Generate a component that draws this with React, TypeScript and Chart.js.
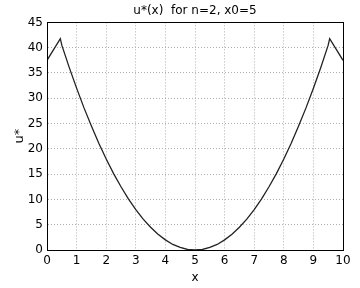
import React, { useEffect, useRef } from "react";
import { Chart, registerables } from "chart.js";

Chart.register(...registerables);

const xValues = [0, 0.45, 0.5, 0.75, 1, 1.25, 1.5, 1.75, 2, 2.25, 2.5, 2.75, 3, 3.25, 3.5, 3.75, 4, 4.25, 4.5, 4.75, 5, 5.25, 5.5, 5.75, 6, 6.25, 6.5, 6.75, 7, 7.25, 7.5, 7.75, 8, 8.25, 8.5, 8.75, 9, 9.25, 9.5, 9.55, 10];
const uValues = [37.5, 41.8, 40.5, 36.1, 32, 28.1, 24.5, 21.1, 18, 15.1, 12.5, 10.1, 8, 6.1, 4.5, 3.1, 2, 1.1, 0.5, 0.1, 0, 0.1, 0.5, 1.1, 2, 3.1, 4.5, 6.1, 8, 10.1, 12.5, 15.1, 18, 21.1, 24.5, 28.1, 32, 36.1, 40.5, 41.8, 37.5];
const titleText = "u*(x)  for n=2, x0=5";
const xLabel = "x";
const yLabel = "u*";

const FONT = "'DejaVu Sans', sans-serif";

const boxPlugin = {
  id: "boxPlugin",
  afterDraw(chart: any) {
    const { ctx, chartArea } = chart;
    ctx.save();
    ctx.strokeStyle = "#000";
    ctx.lineWidth = 1;
    ctx.setLineDash([]);
    ctx.strokeRect(
      Math.round(chartArea.left) + 0.5,
      Math.round(chartArea.top) + 0.5,
      Math.round(chartArea.right - chartArea.left),
      Math.round(chartArea.bottom - chartArea.top)
    );
    ctx.restore();
  },
};

export default function App() {
  const ref = useRef<HTMLCanvasElement | null>(null);
  useEffect(() => {
    if (!ref.current) return;
    const data = xValues.map((x, i) => ({ x, y: uValues[i] }));
    const chart = new Chart(ref.current, {
      type: "scatter",
      data: {
        datasets: [
          {
            data,
            showLine: true,
            borderColor: "#222",
            borderWidth: 1.3,
            pointRadius: 0,
            tension: 0,
          } as any,
        ],
      },
      options: {
        animation: false,
        responsive: false,
        layout: { padding: { left: 12, right: 17, top: 0, bottom: 0 } },
        plugins: {
          legend: { display: false },
          tooltip: { enabled: false },
          title: {
            display: true,
            text: titleText,
            fullSize: false,
            color: "#000",
            font: { family: FONT, size: 12, weight: "normal" },
            padding: { top: 4, bottom: 4 },
          },
        },
        scales: {
          x: {
            type: "linear",
            min: 0,
            max: 10,
            ticks: {
              stepSize: 1,
              color: "#000",
              font: { family: FONT, size: 12 },
              padding: 4,
            },
            grid: {
              color: "#b0b0b0",
              drawTicks: false,
            },
            border: { display: true, color: "#000", dash: [1, 2] } as any,
            title: {
              display: true,
              text: xLabel,
              color: "#000",
              font: { family: FONT, size: 12 },
              padding: { top: 0, bottom: 3 },
            },
            afterFit(scale: any) {
              scale.height = 38;
            },
          },
          y: {
            type: "linear",
            min: 0,
            max: 45,
            ticks: {
              stepSize: 5,
              color: "#000",
              font: { family: FONT, size: 12 },
              padding: 4,
            },
            grid: {
              color: "#b0b0b0",
              drawTicks: false,
            },
            border: { display: true, color: "#000", dash: [1, 2] } as any,
            title: {
              display: true,
              text: yLabel,
              color: "#000",
              font: { family: FONT, size: 13 },
              padding: { top: 0, bottom: 0 },
            },
            afterFit(scale: any) {
              scale.width = 35;
            },
          },
        },
      },
      plugins: [boxPlugin],
    });
    return () => chart.destroy();
  }, []);
  return (
    <div style={{ position: "fixed", left: 0, top: 0, width: 360, height: 288, background: "#fff" }}>
      <canvas ref={ref} width={360} height={288} />
    </div>
  );
}
